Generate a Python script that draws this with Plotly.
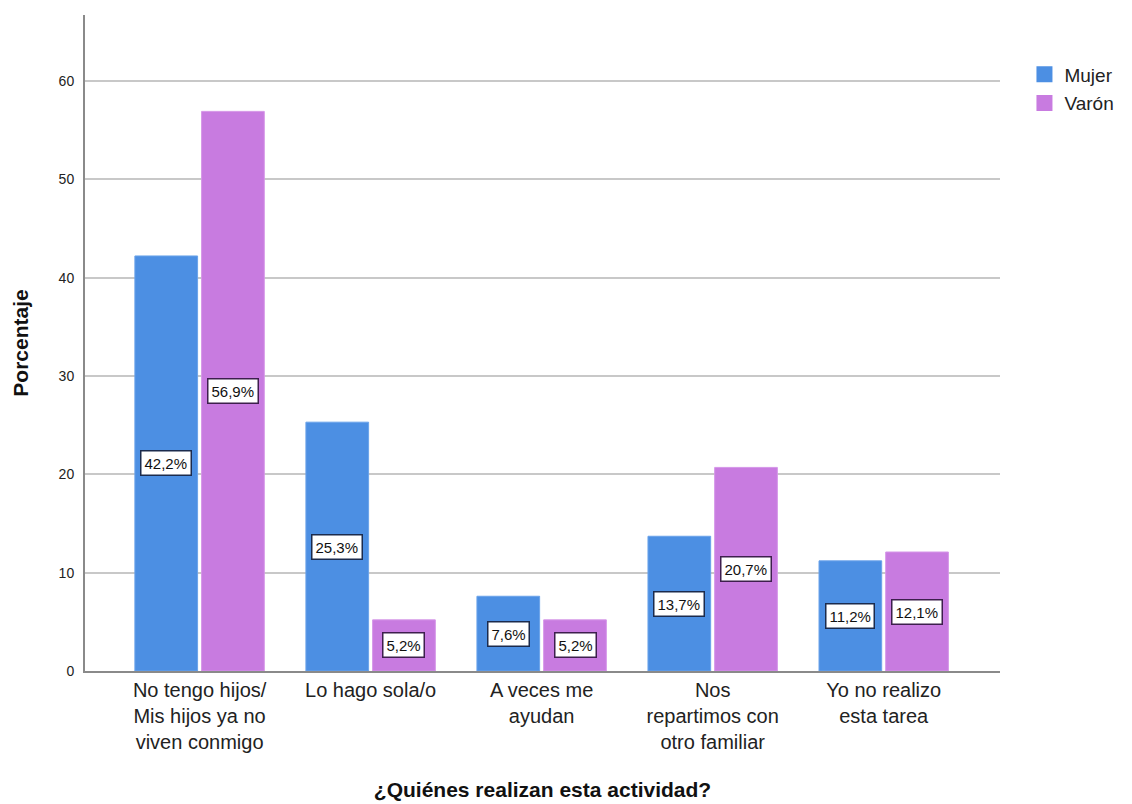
import plotly.graph_objects as go

# Response categories (x axis) and percentages by sex
categorias = [
    "No tengo hijos/<br>Mis hijos ya no<br>viven conmigo",
    "Lo hago sola/o",
    "A veces me<br>ayudan",
    "Nos<br>repartimos con<br>otro familiar",
    "Yo no realizo<br>esta tarea",
]
mujer = [42.2, 25.3, 7.6, 13.7, 11.2]
varon = [56.9, 5.2, 5.2, 20.7, 12.1]
series_nombres = ["Mujer", "Varón"]

color_mujer = "#4C8FE3"
color_varon = "#C87BE0"
FONT = "Liberation Sans, Arial, sans-serif"

fig = go.Figure()
fig.add_trace(go.Bar(
    x=categorias, y=mujer, name=series_nombres[0], showlegend=False,
    marker=dict(color=color_mujer, line=dict(color="#6aa3ea", width=1)),
))
fig.add_trace(go.Bar(
    x=categorias, y=varon, name=series_nombres[1], showlegend=False,
    marker=dict(color=color_varon, line=dict(color="#d596e8", width=1)),
))

# Legend entries with larger square swatches
for nombre, col in zip(series_nombres, (color_mujer, color_varon)):
    fig.add_trace(go.Scatter(
        x=[None], y=[None], mode="markers", name=nombre, legendgroup=nombre,
        marker=dict(symbol="square", size=16, color=col),
    ))

bargap = 0.22
off = (1 - bargap) / 4  # centre offset of each bar inside its group


def etiqueta(v):
    return f"{v:.1f}".replace(".", ",") + "%"


anns = []
for i in range(len(categorias)):
    for vals, dx, bc in ((mujer, -off, "#1b2b4d"), (varon, off, "#3d1f4d")):
        v = vals[i]
        anns.append(dict(
            x=i + dx, y=v / 2, xref="x", yref="y", text=etiqueta(v),
            showarrow=False, bgcolor="white", bordercolor=bc, borderwidth=1.5,
            borderpad=3, font=dict(family=FONT, size=15, color="#111111"),
        ))

fig.update_layout(
    width=1132, height=804,
    margin=dict(l=85, r=132, t=15, b=133, autoexpand=False),
    paper_bgcolor="white", plot_bgcolor="white",
    barmode="group", bargap=bargap, bargroupgap=0.06,
    font=dict(family=FONT, color="#222222"),
    showlegend=True,
    legend=dict(
        xref="container", yref="container",
        x=0.905, y=0.931, xanchor="left", yanchor="top",
        font=dict(family=FONT, size=19, color="#222222"),
        itemwidth=30, tracegroupgap=1, bgcolor="rgba(0,0,0,0)",
    ),
    annotations=anns,
)

fig.update_xaxes(
    range=[-0.67, 4.68], automargin=False,
    showline=True, linecolor="#8a8a8a", linewidth=2,
    ticks="", showgrid=False,
    tickfont=dict(family=FONT, size=20, color="#222222"),
    title=dict(text="<b>¿Quiénes realizan esta actividad?</b>",
               font=dict(family=FONT, size=21, color="#111111"), standoff=30),
)
fig.update_yaxes(
    range=[0, 66.7], tickvals=[0, 10, 20, 30, 40, 50, 60], automargin=False,
    showline=True, linecolor="#8a8a8a", linewidth=2,
    showgrid=True, gridcolor="#c8c8c8", gridwidth=1.5,
    zeroline=False, ticks="", ticklabelstandoff=6,
    tickfont=dict(family=FONT, size=14, color="#222222"),
    title=dict(text="<b>Porcentaje</b>",
               font=dict(family=FONT, size=21, color="#111111"), standoff=24),
)

fig.write_html("out.html")
